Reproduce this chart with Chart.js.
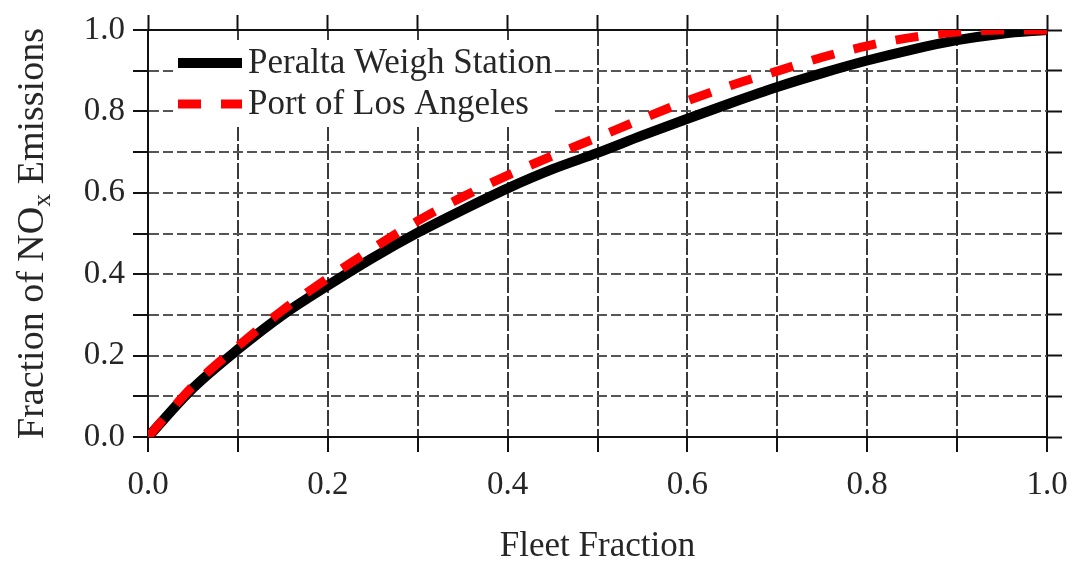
<!DOCTYPE html>
<html>
<head>
<meta charset="utf-8">
<title>Fleet Fraction vs Fraction of NOx Emissions</title>
<script src="https://cdn.jsdelivr.net/npm/chart.js@4.4.1/dist/chart.umd.min.js"></script>
<style>
  html, body { margin: 0; padding: 0; background: #ffffff; }
  #wrap { width: 1082px; height: 568px; position: relative; }
</style>
</head>
<body>
<div id="wrap"><canvas id="c" width="1082" height="568"></canvas></div>
<script>
// Cumulative share of NOx emissions against share of the truck fleet
const fleetFraction = [0.00, 0.05, 0.10, 0.15, 0.20, 0.25, 0.30, 0.35, 0.40, 0.45, 0.50,
                       0.55, 0.60, 0.65, 0.70, 0.75, 0.80, 0.85, 0.90, 0.95, 1.00];
const peraltaNOx    = [0.000, 0.120, 0.215, 0.300, 0.372, 0.440, 0.502, 0.558, 0.611, 0.658, 0.698,
                       0.741, 0.782, 0.822, 0.860, 0.894, 0.925, 0.952, 0.975, 0.991, 1.000];
const portLANOx     = [0.000, 0.125, 0.223, 0.312, 0.390, 0.463, 0.531, 0.590, 0.643, 0.691, 0.736,
                       0.782, 0.826, 0.865, 0.899, 0.933, 0.961, 0.982, 0.995, 1.000, 1.000];
const seriesNames   = ['Peralta Weigh Station', 'Port of Los Angeles'];
const tickLabels    = ['0.0', '0.2', '0.4', '0.6', '0.8', '1.0'];
const xTitle = 'Fleet Fraction';

const SERIF = '"Liberation Serif", "Times New Roman", Times, serif';
const TEXT = '#262626';

const toPoints = ys => fleetFraction.map((x, i) => ({ x: x, y: ys[i] }));

// show a label only on every other 0.1 step
const labelFor = v => {
  const k = Math.round(v * 10);
  return k % 2 === 0 ? tickLabels[k / 2] : '';
};
const isEdge = c => c.tick && (Math.abs(c.tick.value) < 1e-9 || Math.abs(c.tick.value - 1) < 1e-9);

// legend drawn inside the plot, on a white patch over the grid
const innerLegend = {
  id: 'innerLegend',
  afterDatasetsDraw(chart) {
    const { ctx, chartArea: ca } = chart;
    const ds = chart.data.datasets;
    ctx.save();
    ctx.fillStyle = '#ffffff';
    ctx.fillRect(ca.left + 25, ca.top + 10, 380, 87);
    const rows = [ca.top + 33, ca.top + 74];
    const x0 = ca.left + 30, x1 = ca.left + 94;
    ds.forEach((d, i) => {
      ctx.beginPath();
      ctx.lineWidth = d.borderWidth;
      ctx.strokeStyle = d.borderColor;
      ctx.lineCap = 'butt';
      ctx.setLineDash(d.borderDash || []);
      ctx.moveTo(x0, rows[i]);
      ctx.lineTo(x1, rows[i]);
      ctx.stroke();
      ctx.setLineDash([]);
      ctx.fillStyle = TEXT;
      ctx.font = '35px ' + SERIF;
      ctx.textAlign = 'left';
      ctx.textBaseline = 'alphabetic';
      ctx.fillText(d.label, x1 + 6, rows[i] + 10);
    });
    ctx.restore();
  }
};

// rotated y-axis title with a subscript x
const yAxisTitle = {
  id: 'yAxisTitle',
  afterDraw(chart) {
    const { ctx, chartArea: ca } = chart;
    const big = '38px ' + SERIF, small = '26px ' + SERIF;
    const parts = [
      { t: 'Fraction of NO', f: big, dy: 0 },
      { t: 'x', f: small, dy: 7 },
      { t: ' Emissions', f: big, dy: 0 }
    ];
    ctx.save();
    let total = 0;
    parts.forEach(p => { ctx.font = p.f; p.w = ctx.measureText(p.t).width; total += p.w; });
    const cy = (ca.top + ca.bottom) / 2;
    ctx.translate(43, cy);
    ctx.rotate(-Math.PI / 2);
    ctx.fillStyle = TEXT;
    ctx.textAlign = 'left';
    ctx.textBaseline = 'alphabetic';
    let x = -total / 2;
    parts.forEach(p => {
      ctx.font = p.f;
      ctx.fillText(p.t, x, p.dy);
      x += p.w;
    });
    ctx.restore();
  }
};

new Chart(document.getElementById('c'), {
  type: 'line',
  data: {
    datasets: [
      {
        label: seriesNames[0],
        data: toPoints(peraltaNOx),
        borderColor: '#000000',
        borderWidth: 10,
        pointRadius: 0,
        cubicInterpolationMode: 'monotone',
        fill: false,
        order: 2
      },
      {
        label: seriesNames[1],
        data: toPoints(portLANOx),
        borderColor: '#ff0000',
        borderWidth: 9,
        borderDash: [23, 20],
        borderCapStyle: 'butt',
        pointRadius: 0,
        cubicInterpolationMode: 'monotone',
        fill: false,
        order: 1
      }
    ]
  },
  options: {
    responsive: false,
    animation: false,
    devicePixelRatio: 1,
    layout: { padding: { top: 15, right: 20, left: 0, bottom: 0 } },
    plugins: {
      legend: { display: false },
      tooltip: { enabled: false },
      title: { display: false }
    },
    scales: {
      x: {
        type: 'linear',
        position: 'bottom',
        min: 0, max: 1,
        afterFit: s => { s.height = 131; },
        ticks: {
          stepSize: 0.1,
          autoSkip: false,
          maxRotation: 0,
          padding: 14,
          color: TEXT,
          font: { family: SERIF, size: 33 },
          callback: v => labelFor(v)
        },
        grid: {
          color: c => isEdge(c) ? '#111111' : '#3a3a3a',
          lineWidth: 2,
          tickLength: 15,
          tickColor: '#111111',
          tickWidth: 2
        },
        border: {
          display: true, color: '#111111', width: 2,
          dash: c => isEdge(c) ? [] : [16, 3]
        },
        title: {
          display: true,
          text: xTitle,
          color: TEXT,
          font: { family: SERIF, size: 35 },
          padding: { top: 0, bottom: 0 }
        }
      },
      xTop: {
        type: 'linear',
        position: 'top',
        min: 0, max: 1,
        afterFit: s => { s.height = 15; },
        ticks: { stepSize: 0.1, display: false },
        grid: { drawOnChartArea: false, tickLength: 15, tickColor: '#111111', tickWidth: 2 },
        border: { display: false }
      },
      y: {
        type: 'linear',
        position: 'left',
        min: 0, max: 1,
        afterFit: s => { s.width = 148; },
        ticks: {
          stepSize: 0.1,
          autoSkip: false,
          padding: 8,
          color: TEXT,
          font: { family: SERIF, size: 33 },
          callback: v => labelFor(v)
        },
        grid: {
          color: c => isEdge(c) ? '#111111' : '#555555',
          lineWidth: 2,
          tickLength: 15,
          tickColor: '#111111',
          tickWidth: 2
        },
        border: {
          display: true, color: '#111111', width: 2,
          dash: c => isEdge(c) ? [] : [10, 4]
        },
        title: { display: false }
      },
      yRight: {
        type: 'linear',
        position: 'right',
        min: 0, max: 1,
        afterFit: s => { s.width = 15; },
        ticks: { stepSize: 0.1, display: false },
        grid: { drawOnChartArea: false, tickLength: 15, tickColor: '#111111', tickWidth: 2 },
        border: { display: false }
      }
    }
  },
  plugins: [innerLegend, yAxisTitle]
});
</script>
</body>
</html>
